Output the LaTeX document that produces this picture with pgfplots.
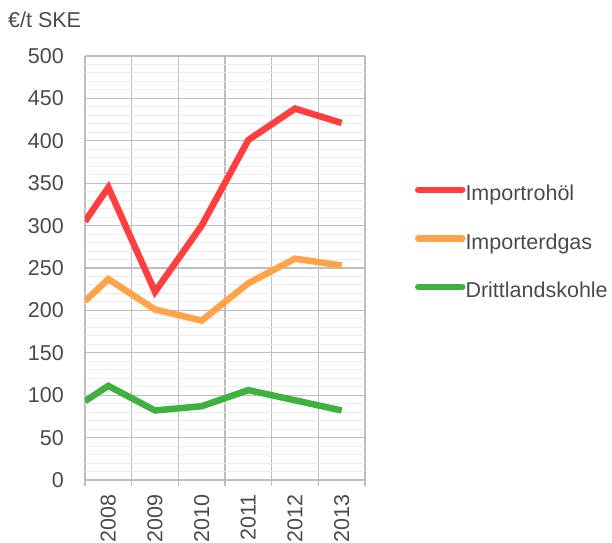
\documentclass[border=0pt]{standalone}
\usepackage{pgfplots}
\pgfplotsset{compat=1.18}
\usepackage{fontspec}
\setmainfont{Liberation Sans}
\definecolor{oil}{RGB}{255,62,62}
\definecolor{gas}{RGB}{255,163,72}
\definecolor{coal}{RGB}{62,178,62}
\definecolor{txt}{RGB}{75,75,75}
\definecolor{gridmaj}{RGB}{190,190,190}
\definecolor{gridmin}{RGB}{236,236,236}
\begin{document}
\fontsize{21.5bp}{26bp}\selectfont
\begin{tikzpicture}
\path[use as bounding box] (-85bp,-63bp) rectangle (527bp,480bp);
\begin{axis}[
  name=ax,
  at={(0,0)}, anchor=south west,
  scale only axis, width=280bp, height=424bp,
  xmin=-0.5, xmax=5.5, ymin=0, ymax=500,
  xtick={-0.5,0.5,...,5.5},
  x tick label as interval,
  xticklabels={2008,2009,2010,2011,2012,2013},
  ytick={0,50,...,500},
  minor y tick num=4,
  xmajorgrids, ymajorgrids, yminorgrids,
  major grid style={draw=gridmaj, line width=1.3bp},
  minor grid style={draw=gridmin, line width=1bp},
  axis x line*=bottom, axis y line*=left,
  x axis line style={draw=gridmaj, line width=2bp},
  y axis line style={draw=none},
  tick align=outside,
  major tick length=6bp,
  xtick style={draw=gridmaj, line width=1.3bp},
  ytick style={draw=none},
  /pgf/number format/assume math mode=true,
  tick label style={font=\fontsize{21.5bp}{26bp}\selectfont, text=txt, inner sep=0pt},
  xticklabel style={rotate=90, anchor=east},
  xticklabel shift=8bp,
  yticklabel style={anchor=east},
  yticklabel shift=15bp,
  legend style={draw=none, fill=none, at={(axis description cs:1.1786,0.696)}, anchor=north west,
    inner sep=0pt, outer sep=0pt, row sep=27.5bp, font=\fontsize{21.5bp}{26bp}\selectfont, text=txt,
    nodes={inner sep=0pt, text height=16bp, text depth=5bp}, cells={anchor=west}},
  legend image code/.code={\draw[#1, line cap=round] (3bp,5.5bp) -- (47bp,5.5bp);},
  every axis plot/.append style={line width=6.5bp, line join=miter},
]
\addplot[oil] coordinates {(-0.5,305) (0,345) (1,222) (2,300) (3,401) (4,438) (5,421)};
\addlegendentry{Importrohöl}
\addplot[gas] coordinates {(-0.5,211) (0,237) (1,201) (2,188) (3,232) (4,261) (5,253)};
\addlegendentry{Importerdgas}
\addplot[coal] coordinates {(-0.5,93) (0,111) (1,82) (2,87) (3,106) (4,94) (5,82)};
\addlegendentry{Drittlandskohle}
\end{axis}
\node[anchor=base west, inner sep=0pt, text=txt] at (ax.north west) [xshift=-77bp, yshift=29bp] {€/t SKE};
\end{tikzpicture}
\end{document}
